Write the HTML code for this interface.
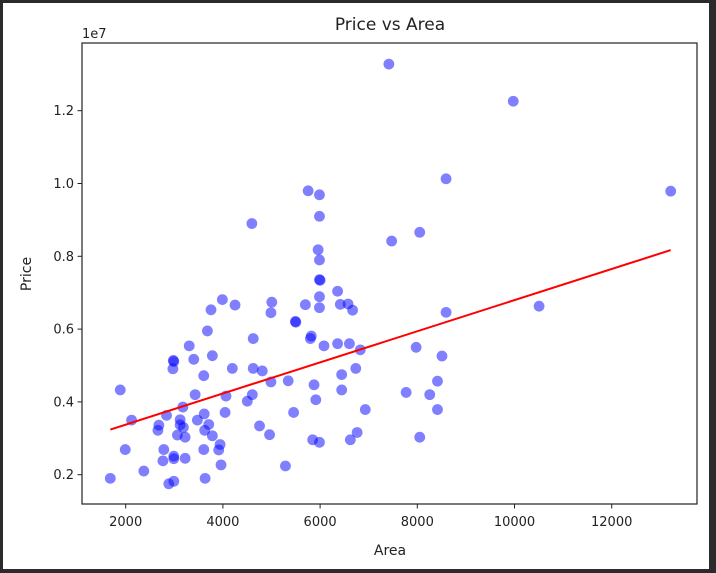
<!DOCTYPE html>
<html><head><meta charset="utf-8"><style>
html,body{margin:0;padding:0;background:#2b2b2b;}
#wrap{position:relative;width:716px;height:573px;}
svg{position:absolute;left:0;top:0;}
text{font-family:"DejaVu Sans","Liberation Sans",sans-serif;fill:#222;}
</style></head><body>
<div id="wrap">
<svg id="chart" width="716" height="573">
<rect x="3" y="3" width="706" height="566" fill="#ffffff"/>
<text x="390" y="30" font-size="17" text-anchor="middle">Price vs Area</text>
<text x="82" y="38" font-size="13">1e7</text>
<text x="390" y="555" font-size="14" text-anchor="middle">Area</text>
<text x="0" y="0" font-size="14" text-anchor="middle" transform="translate(31,274) rotate(-90)">Price</text>
<g id="marks"></g>
<rect x="82" y="43" width="615" height="461" fill="none" stroke="#222" stroke-width="1.2"/>
</svg>
</div>
<script>
const areas=[7415,9974,8592,13214,5754,5987,4596,5987,8050,7472,5959,5987,5987,6000,6360,3989,4250,3755,5006,4988,5697,5987,5987,6416,6575,6669,10506,8592,3681,5492,5500,5819,5800,4624,6080,6360,6603,6827,3307,2980,2990,2971,3400,3783,4194,4624,4810,3606,4988,5343,5875,6444,6734,7976,8508,8415,8256,7770,8415,8050,3429,4064,4605,4502,5912,6444,1888,2121,2840,3176,3120,3475,3615,3709,4045,5455,6930,2682,2663,3120,3186,3625,3783,3064,3223,4754,4960,5847,5987,6622,6762,3942,3914,3606,1991,2784,2766,2990,2990,3223,3961,5287,2373,1683,3634,2887,2990];
const prices=[13.28,12.26,10.13,9.79,9.80,9.69,8.90,9.10,8.66,8.42,8.18,7.90,7.36,7.34,7.04,6.81,6.66,6.53,6.74,6.45,6.67,6.89,6.59,6.68,6.69,6.52,6.63,6.46,5.95,6.21,6.19,5.81,5.74,5.74,5.54,5.60,5.60,5.43,5.54,5.14,5.11,4.91,5.17,5.27,4.92,4.92,4.85,4.72,4.55,4.58,4.47,4.75,4.92,5.50,5.26,4.57,4.20,4.26,3.79,3.03,4.20,4.16,4.20,4.02,4.06,4.33,4.33,3.50,3.63,3.86,3.51,3.50,3.67,3.38,3.71,3.71,3.79,3.36,3.22,3.37,3.30,3.22,3.07,3.09,3.03,3.34,3.10,2.96,2.89,2.96,3.16,2.83,2.68,2.69,2.69,2.69,2.38,2.51,2.44,2.45,2.27,2.24,2.10,1.90,1.90,1.75,1.82];
const fitIntercept=2.52;
const fitSlope=0.0004276;
const xTicks=[2000,4000,6000,8000,10000,12000];
const yTicks=[2,4,6,8,10,12];
const yTickLabels=["0.2","0.4","0.6","0.8","1.0","1.2"];

const NS="http://www.w3.org/2000/svg";
function xs(a){return 125.7+(a-2000)*97.2/2000;}
function ys(p){return 474.7-(p-2)*36.4;}
const g=document.getElementById('marks');
function mk(t,attrs){const e=document.createElementNS(NS,t);for(const k in attrs)e.setAttribute(k,attrs[k]);return e;}
xTicks.forEach((v,i)=>{
  const x=xs(v);
  const tk=mk('line',{x1:x,x2:x,y1:504,y2:508.5,stroke:'#222','stroke-width':1});
  
  
  g.appendChild(tk);
  const t=mk('text',{x:x,y:526,'font-size':13,'text-anchor':'middle'});
  t.textContent=String(v);
  
  
  g.appendChild(t);
});
yTicks.forEach((v,i)=>{
  const y=ys(v);
  const tk=mk('line',{x1:77.5,x2:82,y1:y,y2:y,stroke:'#222','stroke-width':1});
  
  
  g.appendChild(tk);
  const t=mk('text',{x:74,y:y+4.5,'font-size':13,'text-anchor':'end'});
  t.textContent=yTickLabels[i];
  
  
  g.appendChild(t);
});
areas.forEach((a,i)=>{
  const c=mk('circle',{cx:xs(a),cy:ys(prices[i]),r:5.4,fill:'#0000ff','fill-opacity':0.5});
  
  
  g.appendChild(c);
});
const amin=Math.min(...areas),amax=Math.max(...areas);
const ln=mk('line',{x1:xs(amin),y1:ys(fitIntercept+fitSlope*amin),x2:xs(amax),y2:ys(fitIntercept+fitSlope*amax),stroke:'#ff0000','stroke-width':2});


g.appendChild(ln);
</script>
</body></html>
